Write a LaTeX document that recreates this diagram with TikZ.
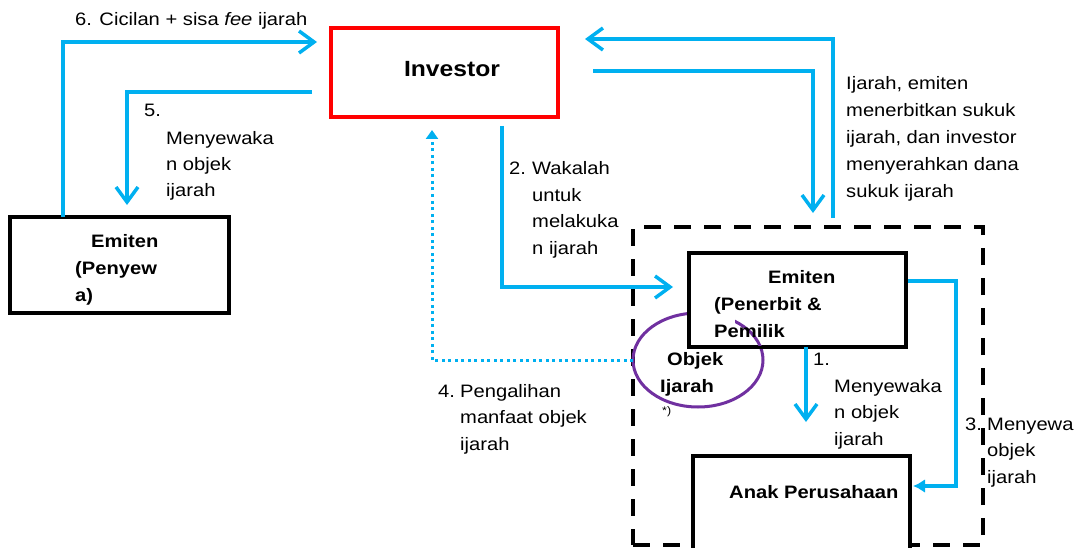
\documentclass[tikz,border=0pt]{standalone}
\usepackage{fontspec}
\setmainfont{Liberation Sans}[FakeStretch=1.12]
\usetikzlibrary{arrows.meta,calc,shapes.geometric}
\definecolor{flowblue}{HTML}{00B0F0}
\definecolor{objpurple}{HTML}{7030A0}
\begin{document}
\begin{tikzpicture}[x=1pt,y=-1pt,
  flow/.style={draw=flowblue,line width=3.5pt,-{Straight Barb[length=15pt,width=22pt]}},
  flowsmall/.style={draw=flowblue,line width=3.5pt,-{Latex[length=12pt,width=14pt]}},
  transfer/.style={draw=flowblue,line width=3pt,dash pattern=on 3pt off 3.5pt,-{Triangle[length=9pt,width=12pt]}},
  party/.style={draw,line width=4pt,fill=white,inner sep=0pt,outer sep=0pt},
  group/.style={draw,line width=4pt,dash pattern=on 17pt off 13pt,inner sep=0pt,outer sep=0pt},
  lbl/.style={anchor=base west,inner sep=0pt,font=\fontsize{18}{26.5}\selectfont},
  blbl/.style={lbl,font=\fontsize{18}{27}\selectfont\bfseries}]
\useasboundingbox (0,0) rectangle (1078,548);
\clip (0,0) rectangle (1078,548);

% group of issuer and subsidiary
\node[group,minimum width=350pt,minimum height=318pt] (grp) at (808,386) {};

% object of the ijarah
\node[draw=objpurple,line width=3pt,ellipse,inner sep=0pt,outer sep=0pt,
      minimum width=130pt,minimum height=94pt] (obj) at (698,360) {};

% parties
\node[draw=red,line width=3.5pt,inner sep=0pt,outer sep=0pt,
      minimum width=227pt,minimum height=89pt] (inv) at (444.5,72.5) {};
\node[party,minimum width=219pt,minimum height=96pt] (pya) at (119.5,265) {};
\node[party,minimum width=217pt,minimum height=94pt] (pen) at (797.5,300) {};
\node[party,minimum width=217pt,minimum height=120pt] (anak) at (801.5,516) {};

% part of the ellipse that shows over the issuer box
\begin{scope}
  \clip (735,318) rectangle (775,345);
  \draw[objpurple,line width=3pt] (obj.center) ellipse [x radius=65,y radius=47];
\end{scope}

% connectors
\draw[flow] ($(pya.north)+(-56.5,0)$) |- ($(inv.west)+(-14,-30.5)$);
\draw[flow] ($(inv.west)+(-19,19.5)$) -| ($(pya.north)+(7.5,-12)$);
\draw[flow] ($(grp.north)+(25,-9)$) |- ($(inv.east)+(27,-33.5)$);
\draw[flow] ($(inv.east)+(35,-1.5)$) -| ($(grp.north)+(5,-14)$);
\draw[flow] ($(inv.south)+(57.5,9)$) |- ($(pen.west)+(-16,-13)$);
\draw[transfer] (obj.west) -| ($(inv.south)+(-12.5,13)$);
\draw[flow] ($(pen.south)+(8.5,0)$) -- ($(pen.south)+(8.5,75)$);
\draw[flowsmall] ($(pen.east)+(2,-19)$) -- ($(pen.east)+(50,-19)$) |- ($(anak.east)+(3,-30)$);

% box texts
\node[lbl,anchor=base,font=\fontsize{22}{26}\selectfont\bfseries] (tinv) at (452,77) {Investor};
\node[blbl] (tpya) at (75,247) {\begin{tabular}[t]{@{}l@{}}\hspace*{16pt}Emiten\\(Penyew\\a)\end{tabular}};
\node[blbl] (tpen) at (714,283) {\begin{tabular}[t]{@{}l@{}}\hspace*{54pt}Emiten\\(Penerbit \&\\Pemilik\end{tabular}};
\node[blbl] (tanak) at (729,498) {Anak Perusahaan};
\node[blbl] (tobj1) at (667,365) {Objek};
\node[blbl] (tobj2) at (660,392) {Ijarah};
\node[lbl,font=\fontsize{11}{13}\selectfont] (tobj3) at (662,414) {*)};

% connector labels
\node[lbl] (t6) at (75,26) {6. Cicilan + sisa \textit{fee} ijarah};
\node[lbl] (t5n) at (144,117) {5.};
\node[lbl,font=\fontsize{18}{26}\selectfont] (t5) at (166,145) {\begin{tabular}[t]{@{}l@{}}Menyewaka\\n objek\\ijarah\end{tabular}};
\node[lbl,font=\fontsize{18}{27}\selectfont] (tiss) at (846,90) {\begin{tabular}[t]{@{}l@{}}Ijarah, emiten\\menerbitkan sukuk\\ijarah, dan investor\\menyerahkan dana\\sukuk ijarah\end{tabular}};
\node[lbl] (t2n) at (509,175) {2.};
\node[lbl] (t2) at (532,175) {\begin{tabular}[t]{@{}l@{}}Wakalah\\untuk\\melakuka\\n ijarah\end{tabular}};
\node[lbl] (t4n) at (438,397) {4.};
\node[lbl] (t4) at (460,397) {\begin{tabular}[t]{@{}l@{}}Pengalihan\\manfaat objek\\ijarah\end{tabular}};
\node[lbl] (t1n) at (813,365) {1.};
\node[lbl] (t1) at (834,392) {\begin{tabular}[t]{@{}l@{}}Menyewaka\\n objek\\ijarah\end{tabular}};
\node[lbl] (t3n) at (965,430) {3.};
\node[lbl] (t3) at (987,430) {\begin{tabular}[t]{@{}l@{}}Menyewa\\objek\\ijarah\end{tabular}};
\end{tikzpicture}
\end{document}
